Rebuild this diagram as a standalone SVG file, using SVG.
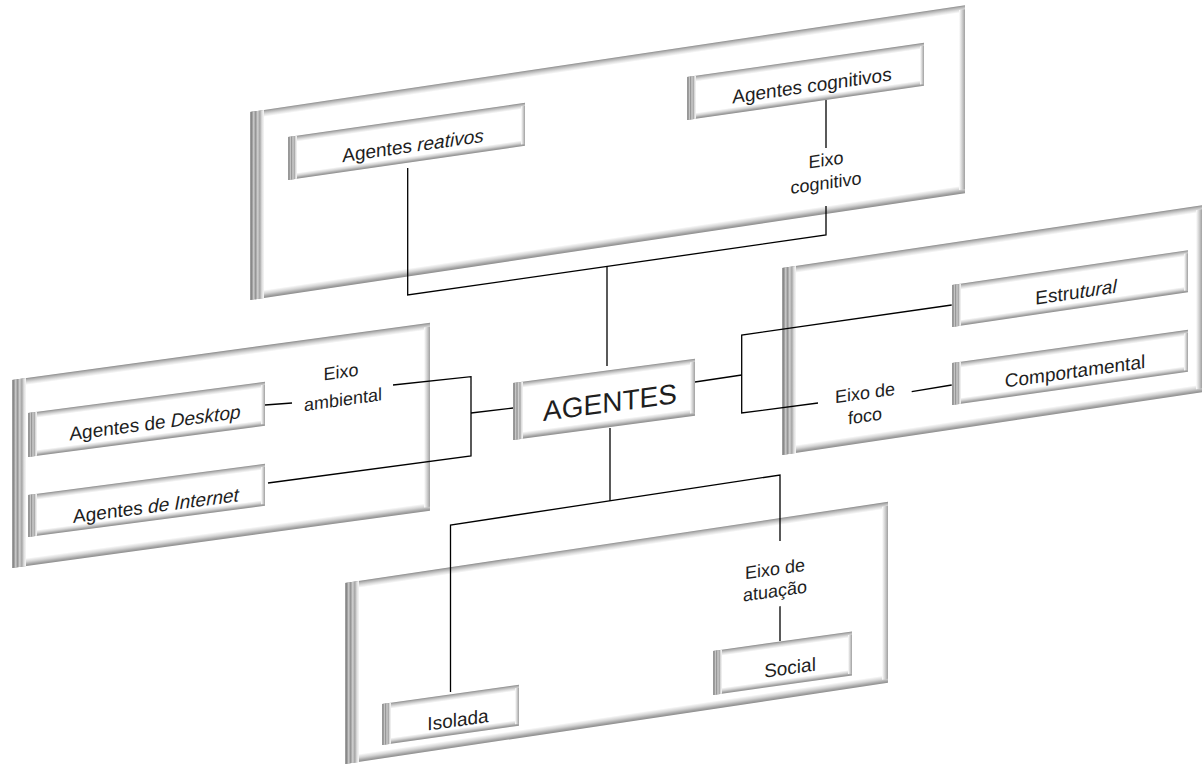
<svg xmlns="http://www.w3.org/2000/svg" width="1203" height="767" viewBox="0 0 1203 767">
  <defs>
    <!-- left extrusion: striped grey bevel -->
    <linearGradient id="gSide" x1="0" y1="0" x2="1" y2="0">
      <stop offset="0" stop-color="#a8a8a8"/>
      <stop offset="0.12" stop-color="#858585"/>
      <stop offset="0.26" stop-color="#cacaca"/>
      <stop offset="0.4" stop-color="#939393"/>
      <stop offset="0.55" stop-color="#d0d0d0"/>
      <stop offset="0.7" stop-color="#a4a4a4"/>
      <stop offset="0.85" stop-color="#dedede"/>
      <stop offset="1" stop-color="#f6f6f6"/>
    </linearGradient>
    <linearGradient id="gTop" x1="0" y1="0" x2="0" y2="1">
      <stop offset="0" stop-color="#8c8c8c"/>
      <stop offset="0.25" stop-color="#b4b4b4"/>
      <stop offset="0.6" stop-color="#dcdcdc"/>
      <stop offset="1" stop-color="#ffffff"/>
    </linearGradient>
    <linearGradient id="gBot" x1="0" y1="0" x2="0" y2="1">
      <stop offset="0" stop-color="#ffffff"/>
      <stop offset="0.45" stop-color="#d4d4d4"/>
      <stop offset="0.8" stop-color="#a2a2a2"/>
      <stop offset="1" stop-color="#8e8e8e"/>
    </linearGradient>
    <linearGradient id="gRight" x1="0" y1="0" x2="1" y2="0">
      <stop offset="0" stop-color="#ffffff"/>
      <stop offset="0.5" stop-color="#d2d2d2"/>
      <stop offset="1" stop-color="#a0a0a0"/>
    </linearGradient>
    <style>
      .face { fill: #ffffff; }
      .side { fill: url(#gSide); }
      .top { fill: url(#gTop); }
      .bot { fill: url(#gBot); }
      .rgt { fill: url(#gRight); }
      .lbl { font-family: "Liberation Sans", Arial, sans-serif; font-size: 19px; fill: #1e1e1e; text-anchor: middle; }
      .big { font-size: 28px; }
      .ax { font-family: "Liberation Sans", Arial, sans-serif; font-size: 18px; fill: #1e1e1e; text-anchor: middle; }
      .it { font-style: italic; }
      .wire { fill: none; stroke: #000000; stroke-width: 1.3; }
      .pad { fill: #ffffff; }
    </style>
  </defs>

  <rect width="1203" height="767" fill="#ffffff"/>

  <!-- large bevelled panels (one per axis) -->
  <g id="panel-cognitivo" transform="translate(250,112) skewY(-8.5)">
    <rect class="face" x="0" y="0" width="715" height="188"/>
    <rect class="top" x="0" y="0" width="715" height="7"/>
    <rect class="bot" x="0" y="180" width="715" height="8"/>
    <rect class="rgt" x="709" y="4" width="6" height="180"/>
    <rect class="side" x="0" y="0" width="14" height="188"/>
  </g>
  <g id="panel-ambiental" transform="translate(12,380) skewY(-7.8)">
    <rect class="face" x="0" y="0" width="418" height="188"/>
    <rect class="top" x="0" y="0" width="418" height="7"/>
    <rect class="bot" x="0" y="180" width="418" height="8"/>
    <rect class="rgt" x="412" y="4" width="6" height="180"/>
    <rect class="side" x="0" y="0" width="14" height="188"/>
  </g>
  <g id="panel-foco" transform="translate(782,268) skewY(-8.5)">
    <rect class="face" x="0" y="0" width="420" height="187"/>
    <rect class="top" x="0" y="0" width="420" height="7"/>
    <rect class="bot" x="0" y="179" width="420" height="8"/>
    <rect class="rgt" x="414" y="4" width="6" height="179"/>
    <rect class="side" x="0" y="0" width="14" height="187"/>
  </g>
  <g id="panel-atuacao" transform="translate(345,583) skewY(-8.5)">
    <rect class="face" x="0" y="0" width="543" height="181"/>
    <rect class="top" x="0" y="0" width="543" height="7"/>
    <rect class="bot" x="0" y="173" width="543" height="8"/>
    <rect class="rgt" x="537" y="4" width="6" height="173"/>
    <rect class="side" x="0" y="0" width="14" height="181"/>
  </g>

  <!-- connectors -->
  <g id="connectors">
    <polyline class="wire" points="407.7,168 407.7,295 826,235 826,206"/>
    <line class="wire" x1="826" y1="148" x2="826" y2="100"/>
    <line class="wire" x1="607" y1="266.4" x2="607" y2="366"/>

    <line class="wire" x1="513" y1="408" x2="471" y2="413"/>
    <polyline class="wire" points="393,385 471,376.7 471,455.9 268,483"/>
    <line class="wire" x1="265" y1="405" x2="292" y2="403"/>

    <line class="wire" x1="695" y1="382" x2="741.7" y2="375"/>
    <polyline class="wire" points="951.7,305 741.7,335 741.7,413 818,403"/>
    <line class="wire" x1="911.7" y1="391.7" x2="951.7" y2="385"/>

    <line class="wire" x1="610" y1="428" x2="610" y2="501"/>
    <polyline class="wire" points="450.5,692 450.5,525 780,475 780,541"/>
    <line class="wire" x1="780" y1="606" x2="780" y2="641"/>
  </g>

  <!-- axis labels -->
  <g id="label-cognitivo" transform="translate(826,166) skewY(-8)">
    <rect class="pad" x="-44" y="-17" width="88" height="46"/>
    <text class="ax" x="0" y="0">Eixo</text>
    <text class="ax" x="0" y="23">cognitivo</text>
  </g>
  <g id="label-ambiental" transform="translate(341,378) skewY(-8)">
    <rect class="pad" x="-44" y="-17" width="88" height="46"/>
    <text class="ax" x="0" y="0">Eixo</text>
    <text class="ax" x="2" y="28">ambiental</text>
  </g>
  <g id="label-foco" transform="translate(865,399) skewY(-8)">
    <rect class="pad" x="-42" y="-17" width="84" height="46"/>
    <text class="ax" x="0" y="0">Eixo de</text>
    <text class="ax" x="0" y="23">foco</text>
  </g>
  <g id="label-atuacao" transform="translate(775,575) skewY(-8)">
    <rect class="pad" x="-44" y="-20" width="88" height="52"/>
    <text class="ax" x="0" y="0">Eixo de</text>
    <text class="ax" x="0" y="22">atuação</text>
  </g>

  <!-- nodes -->
  <g id="node-agentes" transform="translate(513,383) skewY(-7.6)">
    <rect class="face" x="0" y="0" width="182" height="57"/>
    <rect class="top" x="0" y="0" width="182" height="6"/>
    <rect class="bot" x="0" y="50" width="182" height="7"/>
    <rect class="rgt" x="177" y="3" width="5" height="51"/>
    <rect class="side" x="0" y="0" width="10" height="57"/>
    <text class="lbl big" x="97" y="42">AGENTES</text>
  </g>

  <g id="node-reativos" transform="translate(288,137) skewY(-8.2)">
    <rect class="face" x="0" y="0" width="237" height="43"/>
    <rect class="top" x="0" y="0" width="237" height="6"/>
    <rect class="bot" x="0" y="37" width="237" height="6"/>
    <rect class="rgt" x="233" y="3" width="4" height="38"/>
    <rect class="side" x="0" y="0" width="9" height="43"/>
    <text class="lbl" x="125" y="33">Agentes <tspan class="it">reativos</tspan></text>
  </g>
  <g id="node-cognitivos" transform="translate(687,77) skewY(-8.2)">
    <rect class="face" x="0" y="0" width="237" height="43"/>
    <rect class="top" x="0" y="0" width="237" height="6"/>
    <rect class="bot" x="0" y="37" width="237" height="6"/>
    <rect class="rgt" x="233" y="3" width="4" height="38"/>
    <rect class="side" x="0" y="0" width="9" height="43"/>
    <text class="lbl" x="125" y="33">Agentes cognitivos</text>
  </g>

  <g id="node-desktop" transform="translate(28,413) skewY(-7.5)">
    <rect class="face" x="0" y="0" width="237" height="44"/>
    <rect class="top" x="0" y="0" width="237" height="6"/>
    <rect class="bot" x="0" y="38" width="237" height="6"/>
    <rect class="rgt" x="233" y="3" width="4" height="39"/>
    <rect class="side" x="0" y="0" width="9" height="44"/>
    <text class="lbl" x="127" y="33">Agentes de <tspan class="it">Desktop</tspan></text>
  </g>
  <g id="node-internet" transform="translate(28,495) skewY(-7.5)">
    <rect class="face" x="0" y="0" width="237" height="42"/>
    <rect class="top" x="0" y="0" width="237" height="6"/>
    <rect class="bot" x="0" y="36" width="237" height="6"/>
    <rect class="rgt" x="233" y="3" width="4" height="37"/>
    <rect class="side" x="0" y="0" width="9" height="42"/>
    <text class="lbl" x="128" y="34">Agentes <tspan class="it">de Internet</tspan></text>
  </g>

  <g id="node-estrutural" transform="translate(952,285) skewY(-8.4)">
    <rect class="face" x="0" y="0" width="236" height="42"/>
    <rect class="top" x="0" y="0" width="236" height="6"/>
    <rect class="bot" x="0" y="36" width="236" height="6"/>
    <rect class="rgt" x="232" y="3" width="4" height="37"/>
    <rect class="side" x="0" y="0" width="9" height="42"/>
    <text class="lbl" x="124" y="32">Estru<tspan class="it">tural</tspan></text>
  </g>
  <g id="node-comportamental" transform="translate(952,363) skewY(-8)">
    <rect class="face" x="0" y="0" width="236" height="42"/>
    <rect class="top" x="0" y="0" width="236" height="6"/>
    <rect class="bot" x="0" y="36" width="236" height="6"/>
    <rect class="rgt" x="232" y="3" width="4" height="37"/>
    <rect class="side" x="0" y="0" width="9" height="42"/>
    <text class="lbl" x="123" y="32">Comportamental</text>
  </g>

  <g id="node-isolada" transform="translate(382,704) skewY(-8)">
    <rect class="face" x="0" y="0" width="137" height="41"/>
    <rect class="top" x="0" y="0" width="137" height="6"/>
    <rect class="bot" x="0" y="35" width="137" height="6"/>
    <rect class="rgt" x="133" y="3" width="4" height="36"/>
    <rect class="side" x="0" y="0" width="9" height="41"/>
    <text class="lbl" x="76" y="33">Isolada</text>
  </g>
  <g id="node-social" transform="translate(713,651) skewY(-8)">
    <rect class="face" x="0" y="0" width="139" height="44"/>
    <rect class="top" x="0" y="0" width="139" height="6"/>
    <rect class="bot" x="0" y="38" width="139" height="6"/>
    <rect class="rgt" x="135" y="3" width="4" height="39"/>
    <rect class="side" x="0" y="0" width="9" height="44"/>
    <text class="lbl" x="77" y="34">Social</text>
  </g>
</svg>
